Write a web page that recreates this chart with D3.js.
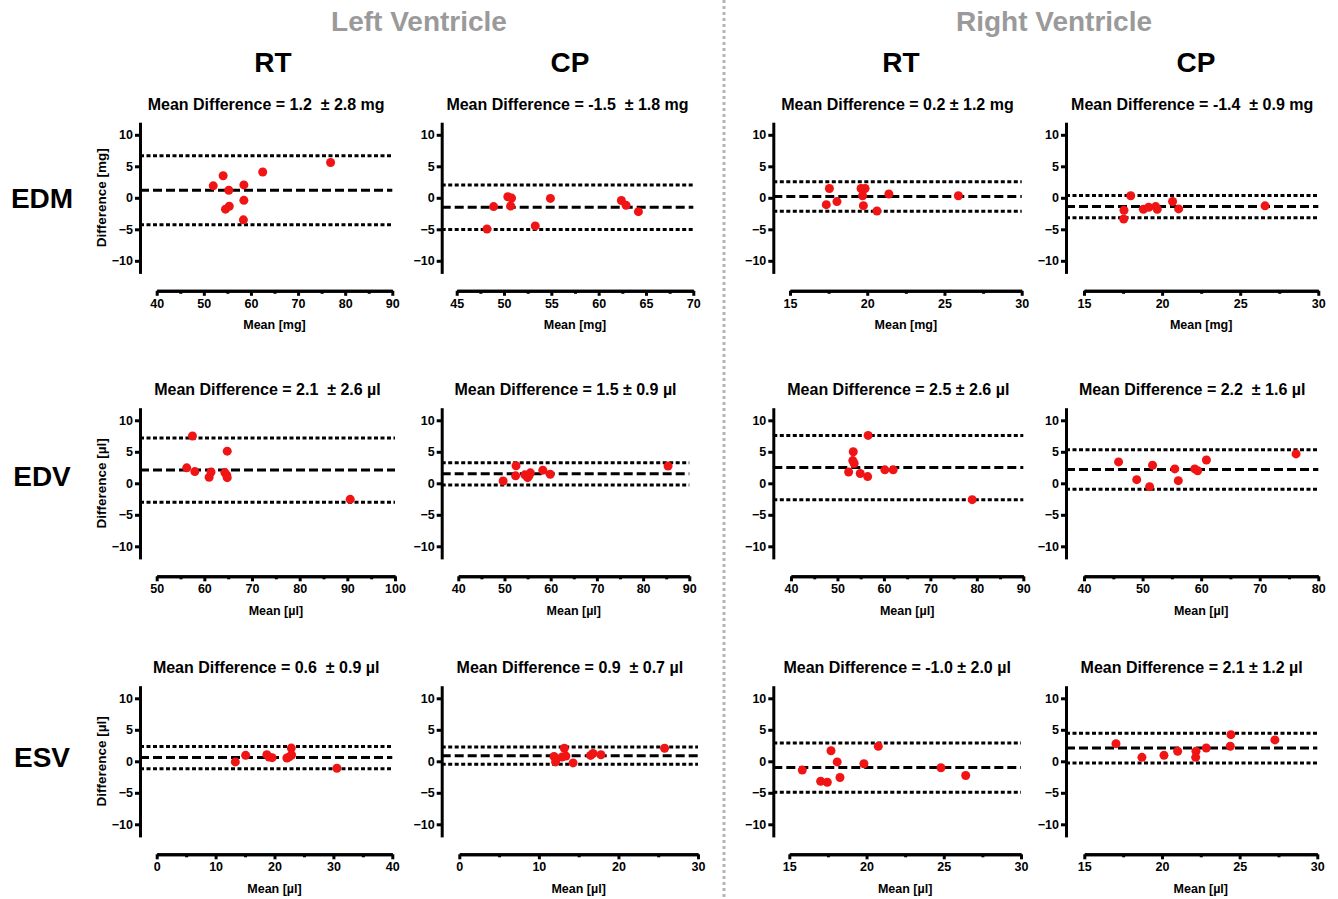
<!DOCTYPE html>
<html>
<head>
    <title>Bland-Altman LV / RV</title>
    <style>
        body { margin: 0; background: #fff; }
        svg { font-family: "Liberation Sans", Arial, sans-serif; font-weight: bold; }
        .axis path, .axis line { stroke: #000; stroke-width: 3px; }
        .axis text { font-family: "Liberation Sans", Arial, sans-serif; font-size: 12.5px; font-weight: bold; fill: #000; }
        .mean-line { stroke: #000; stroke-width: 3px; stroke-dasharray: 9,4; }
        .loa-line { stroke: #000; stroke-width: 3px; stroke-dasharray: 4,2.5; }
        .dot { fill: #f01414; }
        .title { font-size: 16px; white-space: pre; }
        .axis-label { font-size: 12.5px; }
    </style>
</head>
<body>
<svg width="1338" height="899"></svg>
<script src="https://d3js.org/d3.v7.min.js"></script>
<script>
    // Headers
    var ventricles = ["Left Ventricle", "Right Ventricle"];
    var methods = ["RT", "CP", "RT", "CP"];
    var measures = ["EDM", "EDV", "ESV"];
    var units = ["mg", "µl", "µl"];

    // One entry per panel, row by row (LV RT, LV CP, RV RT, RV CP)
    var titles = [
        "Mean Difference = 1.2  ± 2.8 mg", "Mean Difference = -1.5  ± 1.8 mg",
        "Mean Difference = 0.2 ± 1.2 mg", "Mean Difference = -1.4  ± 0.9 mg",
        "Mean Difference = 2.1  ± 2.6 µl", "Mean Difference = 1.5 ± 0.9 µl",
        "Mean Difference = 2.5 ± 2.6 µl", "Mean Difference = 2.2  ± 1.6 µl",
        "Mean Difference = 0.6  ± 0.9 µl", "Mean Difference = 0.9  ± 0.7 µl",
        "Mean Difference = -1.0 ± 2.0 µl", "Mean Difference = 2.1 ± 1.2 µl"
    ];
    var meanDiff = [1.2, -1.5, 0.2, -1.4, 2.1, 1.5, 2.5, 2.2, 0.6, 0.9, -1.0, 2.1];
    var sdDiff = [2.8, 1.8, 1.2, 0.9, 2.6, 0.9, 2.6, 1.6, 0.9, 0.7, 2.0, 1.2];
    var xDomains = [[40, 90], [45, 70], [15, 30], [15, 30],
                    [50, 100], [40, 90], [40, 90], [40, 80],
                    [0, 40], [0, 30], [15, 30], [15, 30]];
    var xSteps = [10, 5, 5, 5, 10, 10, 10, 10, 10, 10, 5, 5];
    var yTicks = [-10, -5, 0, 5, 10];

    // Points [mean, difference]
    var lvRtEdm = [[52.0, 1.9], [54.1, 3.5], [55.3, 1.2], [54.6, -1.8], [55.4, -1.35],
                   [58.5, 2.05], [58.5, -0.4], [58.4, -3.5], [62.5, 4.1], [76.9, 5.6]];
    var lvCpEdm = [[48.2, -4.95], [48.9, -1.4], [50.4, 0.16], [50.8, -0.05], [50.7, -1.3],
                   [53.3, -4.46], [54.9, -0.1], [62.4, -0.43], [62.9, -1.2], [64.2, -2.2]];
    var rvRtEdm = [[17.55, 1.47], [17.35, -1.09], [18.04, -0.6], [19.6, 1.47], [19.86, 1.47],
                   [19.7, 0.33], [19.75, -1.25], [20.63, -2.1], [21.4, 0.6], [25.9, 0.33]];
    var rvCpEdm = [[17.56, -1.98], [17.54, -3.37], [17.99, 0.32], [18.8, -1.82], [19.14, -1.5],
                   [19.59, -1.39], [19.69, -1.82], [20.67, -0.59], [21.06, -1.76], [26.59, -1.28]];
    var lvRtEdv = [[56.3, 2.45], [57.5, 7.5], [58.0, 1.86], [61.0, 0.96], [61.4, 1.8],
                   [64.3, 1.7], [64.8, 5.1], [64.7, 1.28], [64.8, 0.9], [90.6, -2.55]];
    var lvCpEdv = [[49.7, 0.37], [52.5, 2.78], [52.4, 1.18], [54.4, 1.34], [55.0, 0.9],
                   [55.3, 1.2], [55.6, 1.66], [58.3, 2.09], [59.9, 1.44], [85.4, 2.73]];
    var rvRtEdv = [[56.6, 7.6], [53.4, 5.0], [53.3, 3.6], [53.6, 3.15], [52.4, 1.8],
                   [54.9, 1.55], [56.5, 1.07], [60.2, 2.14], [62.0, 2.14], [79.0, -2.6]];
    var rvCpEdv = [[45.9, 3.39], [49.0, 0.58], [51.2, -0.53], [51.7, 2.86], [55.5, 2.28],
                   [56.1, 0.42], [58.9, 2.28], [59.4, 2.0], [60.9, 3.7], [76.2, 4.66]];
    var lvRtEsv = [[13.35, -0.1], [15.1, 0.95], [18.7, 1.05], [19.07, 0.68], [19.6, 0.58],
                   [22.1, 0.53], [22.5, 0.7], [22.85, 2.1], [22.9, 1.0], [30.6, -1.1]];
    var lvCpEsv = [[11.9, 0.78], [12.1, -0.1], [13.2, 2.07], [12.9, 0.67], [13.4, 0.83],
                   [14.3, -0.26], [16.5, 0.93], [16.8, 1.24], [17.8, 1.04], [25.8, 2.07]];
    var rvRtEsv = [[15.84, -1.4], [17.03, -3.17], [17.46, -3.33], [17.7, 1.67], [18.1, -0.1],
                   [18.28, -2.58], [19.83, -0.38], [20.76, 2.37], [24.82, -1.02], [26.42, -2.26]];
    var rvCpEsv = [[17.04, 2.8], [18.71, 0.63], [20.13, 0.95], [21.01, 1.59], [22.19, 1.59],
                   [22.17, 0.63], [22.85, 2.12], [24.4, 2.38], [24.44, 4.23], [27.27, 3.39]];

    var points = [lvRtEdm, lvCpEdm, rvRtEdm, rvCpEdm,
                  lvRtEdv, lvCpEdv, rvRtEdv, rvCpEdv,
                  lvRtEsv, lvCpEsv, rvRtEsv, rvCpEsv];

    // Layout
    var colAxisX = [140, 441.7, 773.3, 1066];
    var rowZero = [197.8, 483.3, 761.3];
    var xRanges = [[156.7, 392.3], [456.7, 693.3], [790, 1021.7], [1084, 1318.3],
                   [156.7, 395], [458.3, 689.3], [791, 1023.3], [1084, 1318.3],
                   [156.7, 392.3], [459.3, 698], [789.3, 1021], [1084.3, 1317.3]];
    var pxPerUnit = 6.3;

    var svg = d3.select("svg");

    // Divider between ventricles
    svg.append("line")
        .attr("x1", 724).attr("x2", 724)
        .attr("y1", 0).attr("y2", 899)
        .attr("stroke", "#b5b5b5")
        .attr("stroke-width", 3)
        .attr("stroke-dasharray", "3,3");

    // Headers
    svg.selectAll(".ventricle")
        .data(ventricles)
        .enter().append("text")
        .attr("class", "ventricle")
        .attr("x", function(d, i) { return i === 0 ? 419 : 1054; })
        .attr("y", 31)
        .attr("text-anchor", "middle")
        .attr("fill", "#9a9a9a")
        .style("font-size", "28px")
        .text(function(d) { return d; });

    svg.selectAll(".method")
        .data(methods)
        .enter().append("text")
        .attr("class", "method")
        .attr("x", function(d, i) { return [273, 570, 901, 1196][i]; })
        .attr("y", 72)
        .attr("text-anchor", "middle")
        .style("font-size", "28px")
        .text(function(d) { return d; });

    svg.selectAll(".measure")
        .data(measures)
        .enter().append("text")
        .attr("class", "measure")
        .attr("x", 42)
        .attr("y", function(d, i) { return [198, 476, 757][i] + 10; })
        .attr("text-anchor", "middle")
        .style("font-size", "28px")
        .text(function(d) { return d; });

    // Panels
    d3.range(12).forEach(function(p) {
        var row = Math.floor(p / 4), col = p % 4;
        var y0 = rowZero[row];
        var x = d3.scaleLinear().domain(xDomains[p]).range(xRanges[p]);
        var y = d3.scaleLinear().domain([-12, 12]).range([y0 + 12 * pxPerUnit, y0 - 12 * pxPerUnit]);
        var ax = colAxisX[col];
        var xEnd = xRanges[p][1];
        var g = svg.append("g");

        // y axis
        g.append("g")
            .attr("class", "axis")
            .attr("transform", "translate(" + ax + ",0)")
            .call(d3.axisLeft(y).tickValues(yTicks).tickSize(5).tickSizeOuter(0).tickPadding(2));

        // x axis, major and minor ticks
        var dom = xDomains[p], step = xSteps[p];
        var major = d3.range(dom[0], dom[1] + step / 2, step);
        var minor = d3.range(dom[0] + step / 2, dom[1], step);
        var xAxisY = y0 + 93;
        g.append("g")
            .attr("class", "axis")
            .attr("transform", "translate(0," + xAxisY + ")")
            .call(d3.axisBottom(x).tickValues(minor).tickSize(3).tickSizeOuter(0).tickFormat(""));
        g.append("g")
            .attr("class", "axis")
            .attr("transform", "translate(0," + xAxisY + ")")
            .call(d3.axisBottom(x).tickValues(major).tickSize(5).tickSizeOuter(0).tickPadding(3));

        // mean and limits of agreement
        var upper = meanDiff[p] + 1.96 * sdDiff[p];
        var lower = meanDiff[p] - 1.96 * sdDiff[p];
        g.selectAll(".loa-line")
            .data([upper, lower])
            .enter().append("line")
            .attr("class", "loa-line")
            .attr("x1", ax).attr("x2", xEnd)
            .attr("y1", function(d) { return y(d); })
            .attr("y2", function(d) { return y(d); });
        g.append("line")
            .attr("class", "mean-line")
            .attr("x1", ax).attr("x2", xEnd)
            .attr("y1", y(meanDiff[p]))
            .attr("y2", y(meanDiff[p]));

        // points
        g.selectAll(".dot")
            .data(points[p])
            .enter().append("circle")
            .attr("class", "dot")
            .attr("cx", function(d) { return x(d[0]); })
            .attr("cy", function(d) { return y(d[1]); })
            .attr("r", 4.5);

        // title
        g.append("text")
            .attr("class", "title")
            .attr("x", (ax + xEnd) / 2)
            .attr("y", y0 - 88)
            .attr("text-anchor", "middle")
            .text(titles[p]);

        // axis labels
        g.append("text")
            .attr("class", "axis-label")
            .attr("x", (xRanges[p][0] + xEnd) / 2)
            .attr("y", y0 + 131.5)
            .attr("text-anchor", "middle")
            .text("Mean [" + units[row] + "]");

        if (col === 0) {
            g.append("text")
                .attr("class", "axis-label")
                .attr("transform", "translate(106," + y0 + ") rotate(-90)")
                .attr("text-anchor", "middle")
                .style("font-size", "13.5px")
                .text("Difference [" + units[row] + "]");
        }
    });
</script>
</body>
</html>
